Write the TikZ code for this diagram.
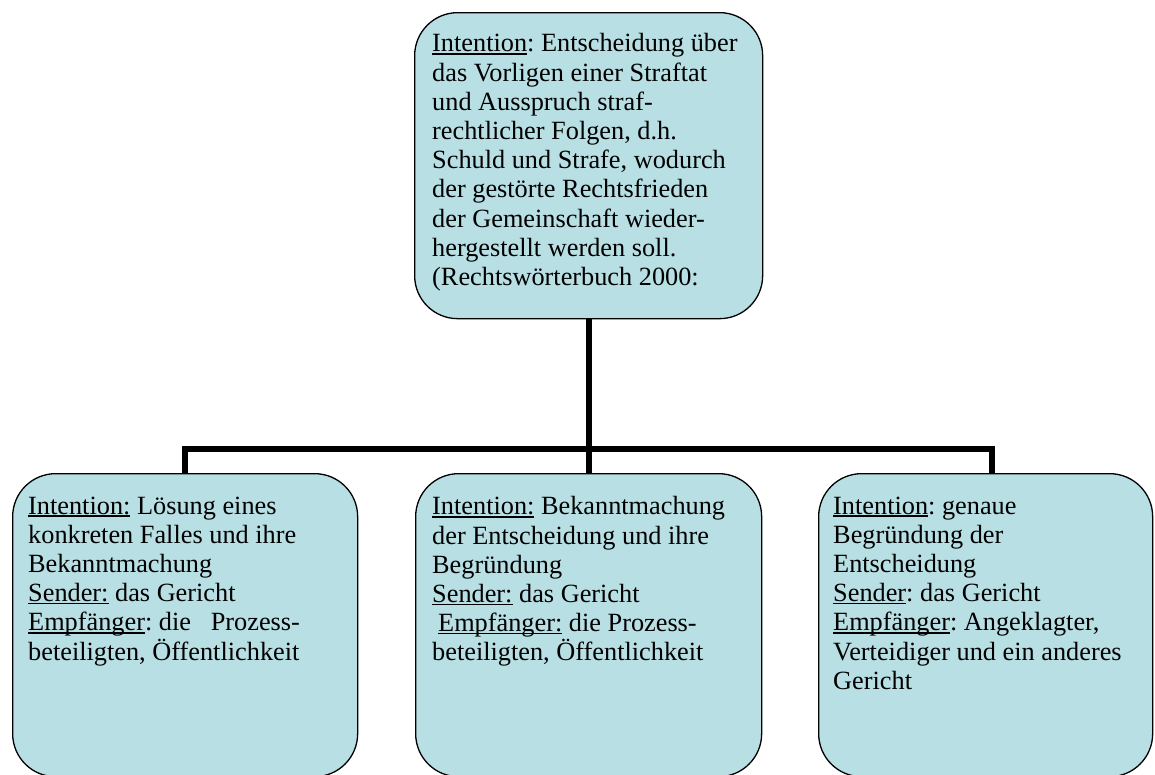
\documentclass[tikz,border=0pt]{standalone}
\usepackage{fontspec}
\setmainfont{Liberation Serif}
\usetikzlibrary{positioning}
\definecolor{BoxClr}{RGB}{184,223,228}

% underline at a fixed depth, through the descenders
\newcommand{\ulw}[1]{\setbox0\hbox{#1}\rlap{\rule[-2.6pt]{\wd0}{1.3pt}}\box0\relax}

\tikzset{
  box/.style={draw=black, line width=1.3pt, fill=BoxClr, rounded corners=43pt,
    anchor=north west, inner sep=0pt},
  txt/.style={align=left, inner sep=0pt,
    font=\fontsize{26.3}{29.2}\selectfont\frenchspacing},
  link/.style={line width=6pt, black}
}

\begin{document}
\begin{tikzpicture}[x=1pt,y=-1pt]
\clip (0,0) rectangle (1155,774);

% boxes
\node[box, minimum width=348, minimum height=306] (top) at (414,12) {};
\node[box, minimum width=345, minimum height=303] (lft) at (12,473) {};
\node[box, minimum width=346, minimum height=303] (mid) at (415,473) {};
\node[box, minimum width=334, minimum height=303] (rgt) at (818,473) {};

% connectors
\coordinate (bar) at (0,449);
\coordinate (drop) at (992,473);
\draw[link] (top.south) -- (mid.north);
\draw[link] (lft.north) -- (lft.north |- bar) -- (drop |- bar) -- (drop);

% texts
\node[txt, below right=21.5pt and 18pt of top.north west] (toptxt)
  {\ulw{Intention}: Entscheidung über\\
   das Vorligen einer Straftat\\
   und Ausspruch straf-\\
   rechtlicher Folgen, d.h.\\
   Schuld und Strafe, wodurch\\
   der gestörte Rechtsfrieden\\
   der Gemeinschaft wieder-\\
   hergestellt werden soll.\\
   (Rechtswörterbuch 2000:};

\node[txt, below right=23.5pt and 16pt of lft.north west] (lfttxt)
  {\ulw{Intention:} Lösung eines\\
   konkreten Falles und ihre\\
   Bekanntmachung\\
   \ulw{Sender:} das Gericht\\
   \ulw{Empfänger}: die~~ Prozess-\\
   beteiligten, Öffentlichkeit};

\node[txt, below right=23.5pt and 17pt of mid.north west] (midtxt)
  {\ulw{Intention:} Bekanntmachung\\
   der Entscheidung und ihre\\
   Begründung\\
   \ulw{Sender:} das Gericht\\
   \hspace*{6pt}\ulw{Empfänger:} die Prozess-\\
   beteiligten, Öffentlichkeit};

\node[txt, below right=23.5pt and 15pt of rgt.north west] (rgttxt)
  {\ulw{Intention}: genaue\\
   Begründung der\\
   Entscheidung\\
   \ulw{Sender}: das Gericht\\
   \ulw{Empfänger}: Angeklagter,\\
   Verteidiger und ein anderes\\
   Gericht};

\end{tikzpicture}
\end{document}
